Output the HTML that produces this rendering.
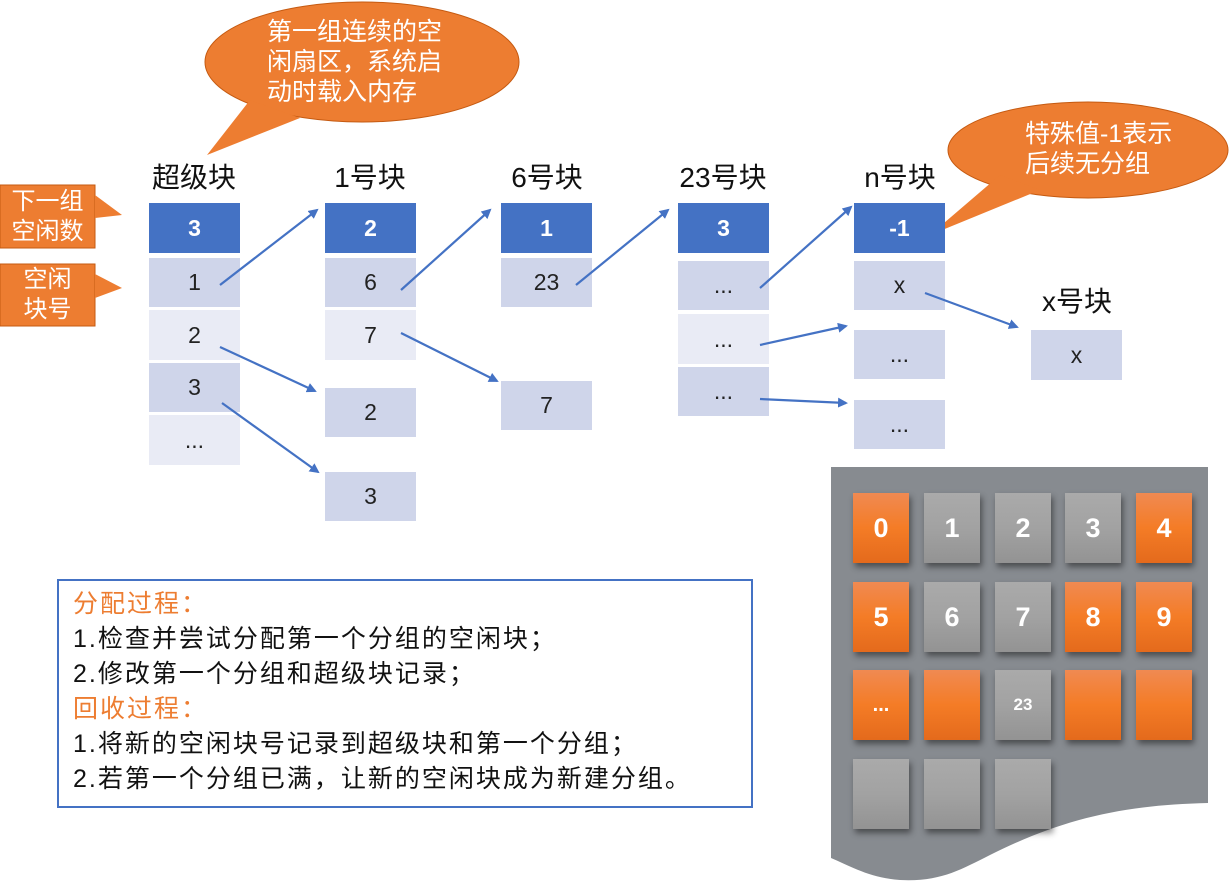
<!DOCTYPE html>
<html><head><meta charset="utf-8"><style>
body{margin:0;width:1232px;height:882px;background:#fff;position:relative;overflow:hidden;font-family:"Liberation Sans","Noto Sans CJK SC",sans-serif}
.b{position:absolute;width:91px;display:flex;align-items:center;justify-content:center;font-size:23px;color:#222}
.h{background:#4472c4;color:#fff;font-weight:bold;height:50px}
.l{background:#cfd5ea;height:49px}
.m{background:#e9ebf5;height:50px}
.t{position:absolute;font-size:28px;color:#111;text-align:center;width:160px}
.tile{position:absolute;width:56px;height:70px;display:flex;align-items:center;justify-content:center;color:#fff;font-weight:bold;font-size:27px;box-shadow:2px 4px 6px rgba(0,0,0,.45)}
.o{background:linear-gradient(#f08a52,#f47c26 50%,#e46a1c)}
.g{background:linear-gradient(#aaa,#a2a2a2 50%,#939393)}
.txt{position:absolute;left:57px;top:579px;width:696px;height:229px;border:2px solid #4472c4;box-sizing:border-box;padding:6px 14px;font-size:25px;line-height:35px;color:#111;letter-spacing:2px;white-space:nowrap}
.or{color:#ed7d31}
.ct{position:absolute;color:#fff;font-size:25px;line-height:30px}
</style></head><body>
<svg width="1232" height="882" style="position:absolute;left:0;top:0">
<path d="M831,467 H1208 V803 C1120,805 1060,820 990,855 C960,870 940,882 900,880 C870,878 850,866 831,858 Z" fill="#878b90"/>
<ellipse cx="362" cy="62" rx="157" ry="60" fill="#ed7d31" stroke="#c55a11"/>
<path d="M250,100 L207,155 L300,118 Z" fill="#ed7d31"/>
<ellipse cx="1088" cy="150" rx="140" ry="48" fill="#ed7d31" stroke="#c55a11"/>
<path d="M1000,175 L930,235 L1040,190 Z" fill="#ed7d31"/>
<rect x="0" y="185" width="95" height="63" fill="#ed7d31" stroke="#c55a11"/>
<path d="M95,195 L122,215 L95,218Z" fill="#ed7d31"/>
<rect x="0" y="264" width="95" height="62" fill="#ed7d31" stroke="#c55a11"/>
<path d="M95,274 L122,288 L95,298Z" fill="#ed7d31"/>
</svg>
<div class="ct" style="left:267px;top:17px;width:200px">第一组连续的空<br>闲扇区，系统启<br>动时载入内存</div>
<div class="ct" style="left:1025px;top:119px;width:190px">特殊值-1表示<br>后续无分组</div>
<div class="ct" style="left:0;top:187px;width:95px;text-align:center;line-height:30px;font-size:24px">下一组<br>空闲数</div>
<div class="ct" style="left:0;top:265px;width:95px;text-align:center;line-height:30px;font-size:24px">空闲<br>块号</div>
<div class="t" style="left:114px;top:156px">超级块</div>
<div class="t" style="left:290px;top:156px">1号块</div>
<div class="t" style="left:467px;top:156px">6号块</div>
<div class="t" style="left:643px;top:156px">23号块</div>
<div class="t" style="left:820px;top:156px">n号块</div>
<div class="t" style="left:997px;top:280px">x号块</div>
<div class="b h" style="left:149px;top:203px">3</div>
<div class="b l" style="left:149px;top:258px">1</div>
<div class="b m" style="left:149px;top:310px">2</div>
<div class="b l" style="left:149px;top:363px">3</div>
<div class="b m" style="left:149px;top:415px">...</div>
<div class="b h" style="left:325px;top:203px">2</div>
<div class="b l" style="left:325px;top:258px">6</div>
<div class="b m" style="left:325px;top:310px">7</div>
<div class="b l" style="left:325px;top:388px">2</div>
<div class="b l" style="left:325px;top:472px">3</div>
<div class="b h" style="left:501px;top:203px">1</div>
<div class="b l" style="left:501px;top:258px">23</div>
<div class="b l" style="left:501px;top:381px">7</div>
<div class="b h" style="left:678px;top:203px">3</div>
<div class="b l" style="left:678px;top:261px">...</div>
<div class="b m" style="left:678px;top:314px">...</div>
<div class="b l" style="left:678px;top:367px">...</div>
<div class="b h" style="left:854px;top:203px">-1</div>
<div class="b l" style="left:854px;top:261px">x</div>
<div class="b l" style="left:854px;top:330px">...</div>
<div class="b l" style="left:854px;top:400px">...</div>
<div class="b l" style="left:1031px;top:330px;height:50px">x</div>
<svg width="1232" height="882" style="position:absolute;left:0;top:0">
<defs><marker id="a" markerWidth="10" markerHeight="10" refX="8" refY="5" orient="auto" markerUnits="userSpaceOnUse"><path d="M0,0 L10,5 L0,10z" fill="#4472c4"/></marker></defs>
<g stroke="#4472c4" stroke-width="2.2" marker-end="url(#a)">
<line x1="220" y1="285" x2="317" y2="210"/>
<line x1="220" y1="347" x2="315" y2="391"/>
<line x1="222" y1="403" x2="318" y2="472"/>
<line x1="401" y1="290" x2="490" y2="210"/>
<line x1="401" y1="333" x2="497" y2="381"/>
<line x1="576" y1="285" x2="668" y2="210"/>
<line x1="760" y1="288" x2="851" y2="207"/>
<line x1="760" y1="345" x2="846" y2="326"/>
<line x1="760" y1="399" x2="846" y2="403"/>
<line x1="925" y1="293" x2="1017" y2="327"/>
</g>
</svg>
<div class="tile o" style="left:853px;top:493px">0</div>
<div class="tile g" style="left:924px;top:493px">1</div>
<div class="tile g" style="left:995px;top:493px">2</div>
<div class="tile g" style="left:1065px;top:493px">3</div>
<div class="tile o" style="left:1136px;top:493px">4</div>
<div class="tile o" style="left:853px;top:582px">5</div>
<div class="tile g" style="left:924px;top:582px">6</div>
<div class="tile g" style="left:995px;top:582px">7</div>
<div class="tile o" style="left:1065px;top:582px">8</div>
<div class="tile o" style="left:1136px;top:582px">9</div>
<div class="tile o" style="left:853px;top:670px;font-size:20px">...</div>
<div class="tile o" style="left:924px;top:670px"></div>
<div class="tile g" style="left:995px;top:670px;font-size:17px">23</div>
<div class="tile o" style="left:1065px;top:670px"></div>
<div class="tile o" style="left:1136px;top:670px"></div>
<div class="tile g" style="left:853px;top:759px"></div>
<div class="tile g" style="left:924px;top:759px"></div>
<div class="tile g" style="left:995px;top:759px"></div>
<div class="txt"><span class="or">分配过程：</span><br>1.检查并尝试分配第一个分组的空闲块；<br>2.修改第一个分组和超级块记录；<br><span class="or">回收过程：</span><br>1.将新的空闲块号记录到超级块和第一个分组；<br>2.若第一个分组已满，让新的空闲块成为新建分组。</div>
</body></html>
